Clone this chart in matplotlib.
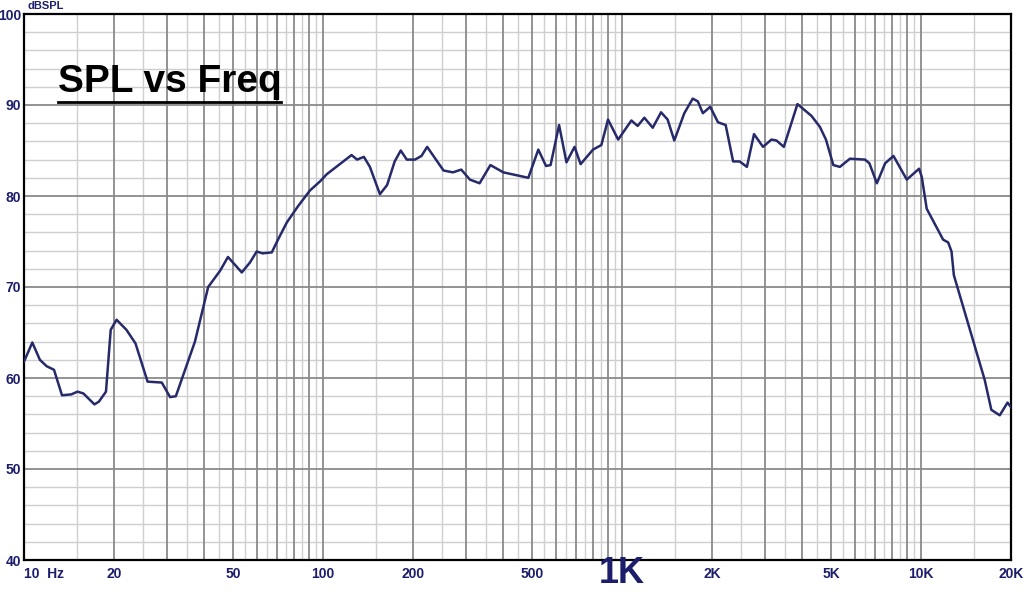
import matplotlib
matplotlib.use('Agg')
import matplotlib.pyplot as plt
import matplotlib.transforms as mtransforms
import numpy as np

plt.rcParams['font.family'] = ['Liberation Sans', 'DejaVu Sans']

# frequency response (Hz, dB SPL)
freq = [10, 10.66, 11.3, 11.9, 12.6, 13.4, 14.4, 15.1, 15.8, 17.2, 17.8, 18.8, 19.5,
        20.4, 22.0, 23.6, 25.9, 28.9, 30.8, 32.2, 37.3, 41.3, 45.3, 48.1, 53.5, 57,
        60, 62.8, 67.4, 70.7, 75.7, 82.6, 90.4, 97.7, 103, 124.6, 130, 137, 143.5,
        155, 163.8, 173.7, 182, 190.6, 203, 213.5, 223, 253, 272, 290, 310, 334,
        363, 401, 486, 525, 557, 577, 616, 652, 694, 727, 800, 853, 898, 971,
        1075, 1128, 1188, 1267, 1351, 1421, 1496, 1616, 1724, 1793, 1864, 1973,
        2094, 2222, 2353, 2474, 2617, 2764, 2963, 3161, 3285, 3477, 3862, 4303,
        4590, 4810, 5091, 5355, 5787, 6498, 6719, 7120, 7589, 8090, 8965, 9855,
        10060, 10450, 11860, 12330, 12650, 12880, 16330, 17190, 18340, 19470, 20000]
spl = [61.8, 63.9, 62.0, 61.3, 60.9, 58.1, 58.2, 58.5, 58.3, 57.1, 57.4, 58.5, 65.3,
       66.4, 65.3, 63.8, 59.6, 59.5, 57.9, 58.0, 64.0, 70.0, 71.8, 73.3, 71.6, 72.7,
       73.9, 73.7, 73.8, 75.2, 77.1, 78.9, 80.6, 81.6, 82.4, 84.5, 84.0, 84.3, 83.2,
       80.2, 81.2, 83.8, 85.0, 84.0, 84.0, 84.4, 85.4, 82.8, 82.6, 82.9, 81.8, 81.4,
       83.4, 82.6, 82.0, 85.1, 83.3, 83.4, 87.8, 83.7, 85.4, 83.5, 85.1, 85.6, 88.4, 86.2,
       88.3, 87.7, 88.6, 87.5, 89.2, 88.4, 86.1, 89.1, 90.7, 90.4, 89.1, 89.8,
       88.1, 87.8, 83.8, 83.8, 83.2, 86.8, 85.4, 86.2, 86.1, 85.4, 90.1, 88.8,
       87.6, 86.2, 83.4, 83.2, 84.1, 84.0, 83.6, 81.4, 83.6, 84.4, 81.8, 83.0,
       82.1, 78.6, 75.2, 74.9, 73.9, 71.3, 59.8, 56.5, 55.9, 57.3, 56.8]

xticks = [10, 20, 50, 100, 200, 500, 1000, 2000, 5000, 10000, 20000]
xlabels = ['10  Hz', '20', '50', '100', '200', '500', '1K', '2K', '5K', '10K', '20K']
yticks = [40, 50, 60, 70, 80, 90, 100]

navy = '#1c1d6b'

fig = plt.figure(figsize=(10.24, 5.92), dpi=100)
ax = fig.add_axes([24/1024, 32/592, 987/1024, 546/592])
ax.set_xscale('log')
ax.set_xlim(10, 20000)
ax.set_ylim(40, 100)

# grid: dark lines on whole multiples, light ones on halves
for dec in [10, 100, 1000, 10000]:
    for m in np.arange(1, 10, 0.5):
        f = dec * m
        if f <= 10 or f >= 20000:
            continue
        if m == int(m):
            ax.axvline(f, color='#8a8a8a', lw=1.3, zorder=1)
        else:
            ax.axvline(f, color='#cfcfcf', lw=1.0, zorder=0)
for y in range(42, 100, 2):
    if y % 10 == 0:
        ax.axhline(y, color='#8a8a8a', lw=1.3, zorder=1)
    else:
        ax.axhline(y, color='#cfcfcf', lw=1.0, zorder=0)

ax.plot(freq, spl, color='#272a6a', lw=1.8, zorder=3)

for s in ax.spines.values():
    s.set_linewidth(1.6)
    s.set_color('black')

ax.set_xticks(xticks)
ax.set_xticklabels(['' if l == '1K' else l for l in xlabels])
ax.xaxis.set_minor_locator(matplotlib.ticker.NullLocator())
ax.set_yticks(yticks)
ax.set_yticklabels([str(v) for v in yticks])
ax.tick_params(length=0, labelcolor=navy)
for lab in ax.get_xticklabels() + ax.get_yticklabels():
    lab.set_fontweight('bold')
    lab.set_fontsize(10)
ax.tick_params(axis='y', pad=2)
ax.tick_params(axis='x', pad=5)
ax.get_xticklabels()[0].set_horizontalalignment('left')

# the big "1K" label, kept just inside the bottom edge
trans = mtransforms.blended_transform_factory(ax.transData, fig.transFigure)
ax.text(1000, 1/592, '1K', transform=trans, fontsize=26, fontweight='bold',
        color=navy, ha='center', va='bottom', clip_on=False)

fig.text(27/1024, 1 - 6/592, 'dBSPL', color=navy, fontsize=8, fontweight='bold',
         va='center', ha='left')

title = ax.text(0.034, 0.875, 'SPL vs Freq', transform=ax.transAxes, fontsize=28,
                fontweight='bold', color='black', ha='left', va='center', zorder=5)
fig.canvas.draw()
bb = title.get_window_extent().transformed(ax.transAxes.inverted())
ax.plot([bb.x0, bb.x1], [bb.y0 - 0.004, bb.y0 - 0.004], transform=ax.transAxes,
        color='black', lw=2, zorder=5)

fig.savefig('out.png', dpi=100)
